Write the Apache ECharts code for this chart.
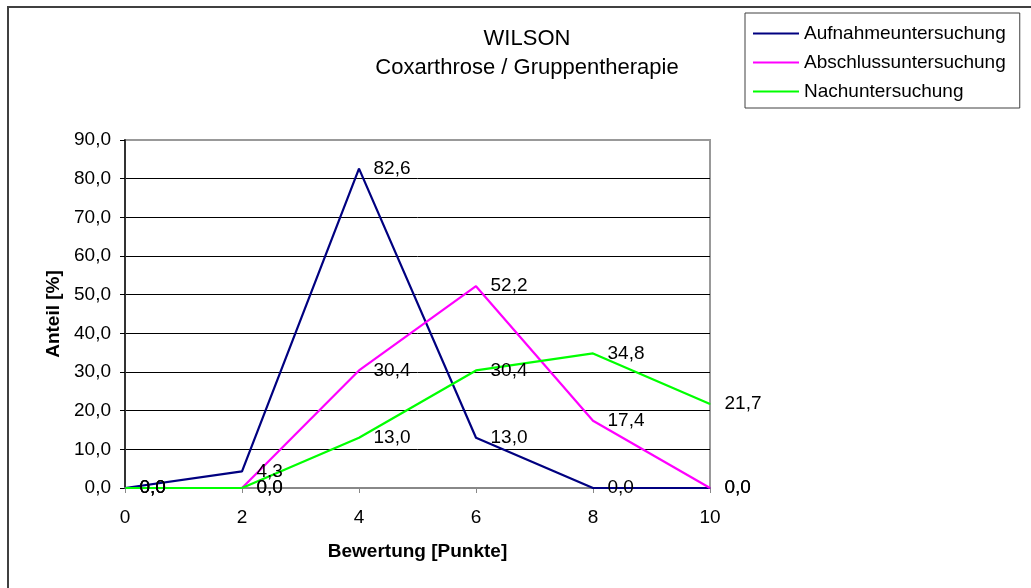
<!DOCTYPE html>
<html>
<head>
<meta charset="utf-8">
<title>WILSON – Coxarthrose / Gruppentherapie</title>
<script src="https://cdn.jsdelivr.net/npm/echarts@6/dist/echarts.min.js"></script>
<style>
  html, body { margin: 0; padding: 0; background: #fff; }
  #chart { width: 1031px; height: 588px; }
</style>
</head>
<body>
<div id="chart"></div>
<script>
// Bewertung (points) on the x axis
const punkte = [0, 2, 4, 6, 8, 10];

// Share of patients per score, in percent
const aufnahme  = [0.0, 4.3, 82.6, 13.0, 0.0, 0.0];
const abschluss = [0.0, 0.0, 30.4, 52.2, 17.4, 0.0];
const nach      = [0.0, 0.0, 13.0, 30.4, 34.8, 21.7];

const seriesNames = ['Aufnahmeuntersuchung', 'Abschlussuntersuchung', 'Nachuntersuchung'];
const seriesColors = ['#000080', '#FF00FF', '#00FF00'];

const titleLines = ['WILSON', 'Coxarthrose / Gruppentherapie'];
const xName = 'Bewertung [Punkte]';
const yName = 'Anteil [%]';

const FONT = '"Liberation Sans", Arial, Helvetica, sans-serif';
const fmt = v => v.toFixed(1).replace('.', ',');

function makeSeries(name, values, color) {
  return {
    name: name,
    type: 'line',
    data: punkte.map((x, i) => [x, values[i]]),
    symbol: 'circle',
    symbolSize: 1,
    itemStyle: { color: color },
    lineStyle: { color: color, width: 2.2 },
    label: {
      show: true,
      position: 'right',
      distance: 14,
      color: '#000',
      fontSize: 19,
      fontFamily: FONT,
      formatter: p => fmt(p.value[1])
    },
    emphasis: { disabled: true },
    animation: false
  };
}

const chart = echarts.init(document.getElementById('chart'), null, { renderer: 'canvas' });

chart.setOption({
  backgroundColor: '#fff',
  animation: false,
  textStyle: { fontFamily: FONT },
  graphic: [
    {
      type: 'rect',
      z: -10,
      shape: { x: 8, y: 7, width: 1100, height: 700 },
      style: { fill: 'none', stroke: '#404040', lineWidth: 2 },
      silent: true
    },
    {
      type: 'text',
      x: 527, y: 39,
      style: {
        text: titleLines[0],
        font: '22px ' + FONT,
        fill: '#000',
        textAlign: 'center', textVerticalAlign: 'middle',
        align: 'center', verticalAlign: 'middle'
      }
    },
    {
      type: 'text',
      x: 527, y: 68,
      style: {
        text: titleLines[1],
        font: '22px ' + FONT,
        fill: '#000',
        textAlign: 'center', textVerticalAlign: 'middle',
        align: 'center', verticalAlign: 'middle'
      }
    }
  ],
  legend: {
    orient: 'vertical',
    left: 745,
    top: 13,
    padding: [11, 14, 7, 7],
    itemGap: 10,
    itemWidth: 46,
    itemHeight: 14,
    backgroundColor: '#fff',
    borderColor: '#404040',
    borderWidth: 1,
    borderRadius: 0,
    itemStyle: { opacity: 0 },
    textStyle: { fontSize: 19, color: '#000', fontFamily: FONT, lineHeight: 18 },
    selectedMode: false,
    data: seriesNames
  },
  grid: {
    left: 125,
    right: 321,
    top: 140,
    bottom: 100,
    show: true,
    borderColor: '#999',
    borderWidth: 2,
    backgroundColor: '#fff',
    outerBoundsMode: 'none',
    containLabel: false
  },
  xAxis: {
    type: 'value',
    min: 0,
    max: 10,
    interval: 2,
    name: xName,
    nameLocation: 'middle',
    nameGap: 54,
    nameTextStyle: { fontSize: 19, fontWeight: 'bold', color: '#000', fontFamily: FONT },
    axisLine: { show: true, lineStyle: { color: '#888', width: 2 } },
    axisTick: { show: true, inside: false, length: 5, lineStyle: { color: '#888', width: 1 } },
    axisLabel: { fontSize: 19, color: '#000', margin: 20, fontFamily: FONT, formatter: v => String(v) },
    splitLine: { show: false }
  },
  yAxis: {
    type: 'value',
    min: 0,
    max: 90,
    interval: 10,
    name: yName,
    nameLocation: 'middle',
    nameGap: 57,
    nameTextStyle: { fontSize: 19, fontWeight: 'bold', color: '#000', fontFamily: FONT },
    axisLine: { show: true, lineStyle: { color: '#333', width: 2 } },
    axisTick: { show: true, inside: false, length: 5, lineStyle: { color: '#000', width: 1 } },
    axisLabel: { fontSize: 19, color: '#000', margin: 14, fontFamily: FONT, formatter: v => fmt(v) },
    splitLine: { show: true, showMinLine: false, showMaxLine: false, lineStyle: { color: '#000', width: 1 } }
  },
  series: [
    makeSeries(seriesNames[0], aufnahme, seriesColors[0]),
    makeSeries(seriesNames[1], abschluss, seriesColors[1]),
    makeSeries(seriesNames[2], nach, seriesColors[2])
  ]
});
</script>
</body>
</html>
